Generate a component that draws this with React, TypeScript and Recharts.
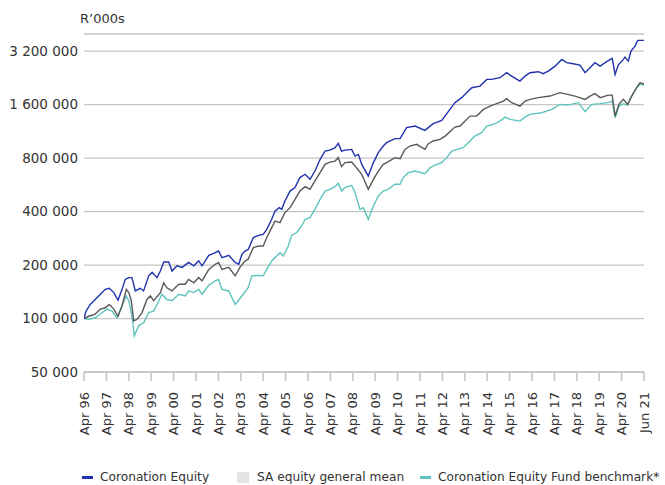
import React from "react";
import { LineChart, Line, XAxis, YAxis, CartesianGrid } from "recharts";

// x values: years since Apr 96 (axis ticks are one per year, last tick "Jun 21")
const xTickLabels = [
  "Apr 96", "Apr 97", "Apr 98", "Apr 99", "Apr 00", "Apr 01", "Apr 02", "Apr 03",
  "Apr 04", "Apr 05", "Apr 06", "Apr 07", "Apr 08", "Apr 09", "Apr 10", "Apr 11",
  "Apr 12", "Apr 13", "Apr 14", "Apr 15", "Apr 16", "Apr 17", "Apr 18", "Apr 19",
  "Apr 20", "Jun 21",
];
const yTicks = [50000, 100000, 200000, 400000, 800000, 1600000, 3200000];

const equityYears = [
  0, 0.09, 0.28, 0.5, 0.73, 0.95, 1.13, 1.33, 1.52, 1.7, 1.84, 2.0, 2.14, 2.29, 2.51, 2.66,
  2.89, 3.04, 3.26, 3.41, 3.56, 3.78, 3.93, 4.15, 4.38, 4.67, 4.9, 5.12, 5.27, 5.57, 5.79,
  6.01, 6.16, 6.46, 6.75, 6.91, 7.05, 7.19, 7.33, 7.56, 7.79, 8.0, 8.16, 8.38, 8.53, 8.72,
  8.83, 8.97, 9.2, 9.42, 9.64, 9.87, 10.09, 10.31, 10.54, 10.76, 10.98, 11.21, 11.35, 11.5,
  11.65, 11.95, 12.1, 12.25, 12.4, 12.69, 12.92, 13.14, 13.36, 13.51, 13.88, 14.11, 14.4,
  14.78, 15.22, 15.59, 15.97, 16.56, 16.86, 17.31, 17.68, 17.98, 18.2, 18.57, 18.87, 19.09,
  19.46, 19.69, 19.91, 20.28, 20.5, 20.73, 21.03, 21.33, 21.55, 21.84, 22.14, 22.37, 22.59,
  22.81, 23.04, 23.33, 23.58, 23.71, 23.85, 24.08, 24.15, 24.3, 24.42, 24.6, 24.72, 24.97, 25,
];
const equityValues = [
  100000, 110000, 120000, 128000, 137000, 146000, 148000, 140000, 127000, 146000, 166000,
  170000, 170000, 143000, 148000, 143000, 174000, 182000, 170000, 185000, 208000, 208000,
  185000, 198000, 194000, 207000, 198000, 211000, 198000, 227000, 233000, 240000, 220000,
  227000, 207000, 202000, 230000, 240000, 245000, 286000, 294000, 298000, 318000, 362000,
  403000, 421000, 412000, 459000, 522000, 546000, 622000, 649000, 608000, 677000, 788000,
  877000, 888000, 916000, 969000, 877000, 888000, 896000, 822000, 840000, 738000, 634000,
  755000, 859000, 936000, 978000, 1030000, 1030000, 1188000, 1213000, 1147000, 1251000,
  1306000, 1642000, 1752000, 1994000, 2036000, 2220000, 2220000, 2270000, 2422000, 2318000,
  2172000, 2318000, 2422000, 2453000, 2390000, 2473000, 2637000, 2878000, 2757000, 2721000,
  2672000, 2422000, 2584000, 2757000, 2637000, 2793000, 2914000, 2369000, 2672000, 2878000,
  2964000, 2815000, 3205000, 3417000, 3682000, 3682000, 3682000,
];

const meanYears = [
  0, 0.21, 0.5, 0.73, 0.95, 1.13, 1.33, 1.52, 1.7, 1.89, 2.0, 2.11, 2.22, 2.37, 2.59, 2.81,
  2.96, 3.11, 3.41, 3.56, 3.7, 3.93, 4.23, 4.52, 4.67, 4.9, 5.12, 5.27, 5.57, 5.86, 6.01,
  6.16, 6.46, 6.75, 6.96, 7.19, 7.33, 7.56, 7.79, 8.0, 8.16, 8.38, 8.53, 8.75, 8.97, 9.2,
  9.42, 9.64, 9.87, 10.09, 10.31, 10.54, 10.76, 10.98, 11.21, 11.35, 11.5, 11.65, 11.95,
  12.1, 12.4, 12.69, 12.92, 13.14, 13.36, 13.51, 13.88, 14.11, 14.33, 14.55, 14.85, 15.22,
  15.37, 15.59, 15.89, 16.12, 16.56, 16.79, 17.23, 17.53, 17.83, 18.13, 18.42, 18.72, 18.87,
  19.09, 19.46, 19.69, 19.91, 20.28, 20.8, 21.25, 21.92, 22.37, 22.59, 22.81, 23.04, 23.41,
  23.58, 23.71, 23.88, 24.08, 24.27, 24.45, 24.67, 24.82, 24.97, 25,
];
const meanValues = [
  100000, 103000, 106000, 113000, 115000, 120000, 113000, 103000, 118000, 146000, 140000,
  126000, 97000, 99000, 108000, 128000, 134000, 126000, 140000, 159000, 149000, 143000,
  156000, 156000, 166000, 159000, 170000, 163000, 189000, 202000, 207000, 189000, 194000,
  174000, 194000, 211000, 216000, 251000, 256000, 256000, 286000, 325000, 354000, 347000,
  395000, 421000, 469000, 522000, 553000, 534000, 595000, 663000, 738000, 760000, 770000,
  805000, 716000, 755000, 760000, 722000, 649000, 534000, 608000, 677000, 738000, 755000,
  805000, 795000, 896000, 936000, 957000, 896000, 965000, 999000, 1020000, 1065000, 1197000,
  1213000, 1380000, 1380000, 1505000, 1571000, 1621000, 1676000, 1729000, 1642000, 1571000,
  1676000, 1714000, 1752000, 1789000, 1869000, 1789000, 1714000, 1789000, 1845000, 1752000,
  1811000, 1811000, 1380000, 1606000, 1714000, 1606000, 1789000, 1994000, 2127000, 2100000,
  2100000,
];

const benchYears = [
  0, 0.21, 0.5, 0.73, 1.03, 1.25, 1.47, 1.7, 1.88, 2.0, 2.14, 2.25, 2.44, 2.67, 2.89, 3.11,
  3.26, 3.48, 3.7, 3.93, 4.23, 4.52, 4.67, 4.9, 5.12, 5.27, 5.57, 5.86, 6.01, 6.16, 6.46,
  6.75, 7.05, 7.33, 7.49, 7.71, 8.0, 8.16, 8.38, 8.6, 8.75, 8.9, 9.12, 9.27, 9.5, 9.72, 9.87,
  10.09, 10.31, 10.54, 10.76, 10.98, 11.21, 11.35, 11.5, 11.65, 11.95, 12.1, 12.32, 12.47,
  12.69, 12.92, 13.14, 13.36, 13.58, 13.88, 14.11, 14.25, 14.48, 14.78, 15.22, 15.45, 15.75,
  15.97, 16.19, 16.42, 16.64, 16.93, 17.23, 17.45, 17.75, 17.98, 18.27, 18.57, 18.8, 19.02,
  19.46, 19.69, 19.91, 20.43, 20.88, 21.25, 21.62, 22.07, 22.37, 22.67, 23.04, 23.41, 23.58,
  23.71, 23.88, 24.08, 24.27, 24.45, 24.67, 24.82, 24.97, 25,
];
const benchValues = [
  100000, 99000, 101000, 106000, 113000, 110000, 101000, 118000, 134000, 126000, 103000,
  80000, 91000, 95000, 108000, 110000, 120000, 137000, 128000, 126000, 137000, 134000,
  143000, 140000, 146000, 137000, 154000, 163000, 166000, 146000, 143000, 120000, 134000,
  149000, 174000, 175000, 174000, 189000, 211000, 225000, 235000, 225000, 256000, 294000,
  305000, 332000, 362000, 370000, 412000, 469000, 522000, 534000, 553000, 577000, 522000,
  546000, 562000, 512000, 412000, 421000, 362000, 430000, 490000, 522000, 534000, 570000,
  570000, 622000, 663000, 677000, 654000, 707000, 738000, 755000, 805000, 877000, 896000,
  916000, 999000, 1065000, 1113000, 1213000, 1240000, 1293000, 1362000, 1322000, 1293000,
  1362000, 1411000, 1442000, 1505000, 1606000, 1592000, 1642000, 1461000, 1606000, 1621000,
  1642000, 1676000, 1352000, 1571000, 1621000, 1592000, 1789000, 1994000, 2081000, 2062000,
  2062000,
];

const toRows = (years: number[], values: number[]) =>
  years.map((t, i) => ({ t, v: values[i] }));

const equityData = toRows(equityYears, equityValues);
const meanData = toRows(meanYears, meanValues);
const benchData = toRows(benchYears, benchValues);

const BLUE = "#2132ad";
const GREY = "#595959";
const TEAL = "#5ec4bd";
const FONT = "'DejaVu Sans', sans-serif";

const fmt = (v: number) => String(v).replace(/\B(?=(\d{3})+(?!\d))/g, " ");

const XTick = (props: any) => {
  const { x, y, payload } = props;
  return (
    <text
      x={x}
      y={y}
      transform={`rotate(-90 ${x} ${y})`}
      textAnchor="end"
      dy="0.35em"
      fill="#333"
      fontSize={13}
      fontFamily={FONT}
    >
      {xTickLabels[payload.value]}
    </text>
  );
};

const legendItems = [
  { label: "Coronation Equity", color: BLUE, kind: "line", left: 82 },
  { label: "SA equity general mean", color: "#e4e4e4", kind: "box", left: 237 },
  { label: "Coronation Equity Fund benchmark*", color: TEAL, kind: "line", left: 420 },
];

export default function App() {
  return (
    <div
      style={{
        position: "absolute",
        left: 0,
        top: 0,
        width: 665,
        height: 485,
        background: "#fff",
        fontFamily: FONT,
      }}
    >
      <div
        style={{
          position: "absolute",
          left: 80,
          top: 11,
          fontSize: 13,
          color: "#333",
          lineHeight: "16px",
        }}
      >
        R’000s
      </div>
      <LineChart
        width={665}
        height={452}
        margin={{ top: 34, right: 21, bottom: 0, left: 0 }}
      >
        <CartesianGrid
          horizontal
          vertical={false}
          stroke="#c6c6c6"
          strokeWidth={1.3}
        />
        <XAxis
          dataKey="t"
          type="number"
          domain={[0, 25]}
          ticks={xTickLabels.map((_, i) => i)}
          interval={0}
          allowDataOverflow
          height={80}
          tick={<XTick />}
          tickSize={9}
          tickMargin={11}
          axisLine={{ stroke: "#c6c6c6", strokeWidth: 1.3 }}
          tickLine={{ stroke: "#c6c6c6", strokeWidth: 1.6 }}
        />
        <YAxis
          type="number"
          scale="log"
          domain={[50000, 4000000]}
          ticks={yTicks}
          interval={0}
          allowDataOverflow
          width={84}
          axisLine={false}
          tickLine={false}
          tickSize={0}
          tickMargin={6}
          tickFormatter={fmt}
          tick={{ fill: "#333", fontSize: 13.5, fontFamily: FONT }}
        />
        <Line
          data={benchData}
          dataKey="v"
          type="linear"
          stroke={TEAL}
          strokeWidth={1.4}
          dot={false}
          isAnimationActive={false}
        />
        <Line
          data={meanData}
          dataKey="v"
          type="linear"
          stroke={GREY}
          strokeWidth={1.4}
          dot={false}
          isAnimationActive={false}
        />
        <Line
          data={equityData}
          dataKey="v"
          type="linear"
          stroke={BLUE}
          strokeWidth={1.4}
          dot={false}
          isAnimationActive={false}
        />
      </LineChart>
      {legendItems.map((it) => (
        <div
          key={it.label}
          style={{
            position: "absolute",
            left: it.left,
            top: 469,
            height: 16,
            display: "flex",
            alignItems: "center",
            fontSize: 12.2,
            color: "#333",
            whiteSpace: "nowrap",
          }}
        >
          {it.kind === "line" ? (
            <span
              style={{
                display: "inline-block",
                width: 11,
                height: 3,
                background: it.color,
                marginRight: 7,
              }}
            />
          ) : (
            <span
              style={{
                display: "inline-block",
                width: 12,
                height: 11,
                background: it.color,
                marginRight: 8,
              }}
            />
          )}
          {it.label}
        </div>
      ))}
    </div>
  );
}
